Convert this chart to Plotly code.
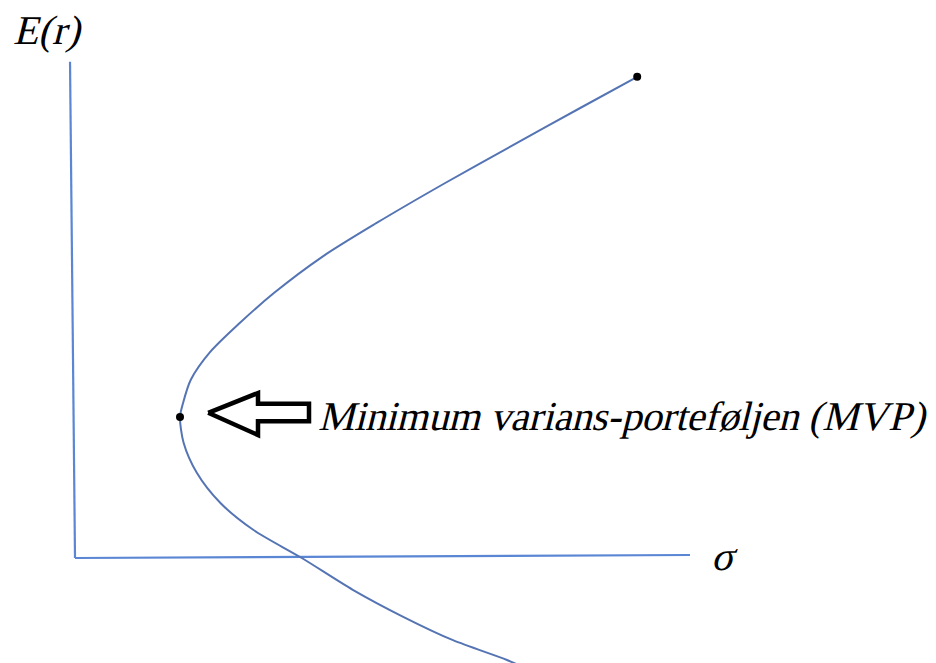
import plotly.graph_objects as go

# Efficient frontier (sigma, expected return), read from top to bottom
sigma = [9.37, 8.42, 7.30, 6.17, 5.02, 4.12, 3.32, 2.75, 2.25, 1.93, 1.80,
         1.75, 1.81, 2.03, 2.42, 2.97, 3.78, 4.63, 5.47, 6.30, 7.20, 7.58]
exp_ret = [8.02, 7.50, 6.88, 6.25, 5.58, 5.02, 4.42, 3.92, 3.43, 2.97, 2.58,
           2.35, 1.92, 1.42, 0.92, 0.47, 0.00, -0.53, -0.98, -1.37, -1.70, -1.87]

# Highlighted portfolios: end of the frontier and the minimum variance portfolio
dot_sigma = [9.37, 1.75]
dot_ret = [8.02, 2.35]

# Axis lines
yaxis_x = [-0.083, 0.0]
yaxis_y = [8.27, 0.0]
xaxis_x = [0.0, 10.25]
xaxis_y = [0.0, 0.05]

# Outline of the block arrow pointing at the MVP
arrow_x = [2.22, 3.05, 3.05, 3.90, 3.90, 3.05, 3.05, 2.22]
arrow_y = [2.42, 2.75, 2.57, 2.57, 2.28, 2.28, 2.05, 2.42]

labels = ["E(r)", "σ", "Minimum varians-porteføljen (MVP)"]
label_x = [-1.10, 10.58, 4.02]
label_y = [8.80, 0.03, 2.36]

axis_blue = "#5a86d4"
curve_blue = "#5574b4"
# Serif face registered as upright only, so the browser slants it for italic
serif = "FrontierSerif, Liberation Serif, serif"

fig = go.Figure()
fig.add_trace(go.Scatter(x=yaxis_x, y=yaxis_y, mode="lines",
                         line=dict(color=axis_blue, width=2.2), hoverinfo="skip"))
fig.add_trace(go.Scatter(x=xaxis_x, y=xaxis_y, mode="lines",
                         line=dict(color=axis_blue, width=2.2), hoverinfo="skip"))
fig.add_trace(go.Scatter(x=sigma, y=exp_ret, mode="lines",
                         line=dict(color=curve_blue, width=2, shape="spline", smoothing=0.8)))
fig.add_trace(go.Scatter(x=arrow_x, y=arrow_y, mode="lines",
                         line=dict(color="black", width=4.5), hoverinfo="skip"))
fig.add_trace(go.Scatter(x=dot_sigma, y=dot_ret, mode="markers",
                         marker=dict(color="black", size=8)))

for t, x, y in zip(labels, label_x, label_y):
    fig.add_annotation(x=x, y=y, text=t, showarrow=False, xanchor="left", yanchor="middle",
                       font=dict(family=serif, size=41, color="black", style="italic"))

fig.update_layout(
    width=936, height=663,
    margin=dict(l=0, r=0, t=0, b=0),
    paper_bgcolor="white", plot_bgcolor="white",
    showlegend=False,
    xaxis=dict(range=[-75 / 60, 861 / 60], visible=False, fixedrange=True),
    yaxis=dict(range=[-105 / 60, 558 / 60], visible=False, fixedrange=True),
)

font_js = """
var gd = document.getElementById('{plot_id}');
var st = document.createElement('style');
st.textContent = "@font-face { font-family: 'FrontierSerif'; src: local('Liberation Serif'), local('LiberationSerif'); font-style: normal; font-weight: 400; }";
document.head.appendChild(st);
document.fonts.load("41px FrontierSerif").then(function () { Plotly.redraw(gd); });
"""

fig.write_html("out.html", post_script=font_js)
